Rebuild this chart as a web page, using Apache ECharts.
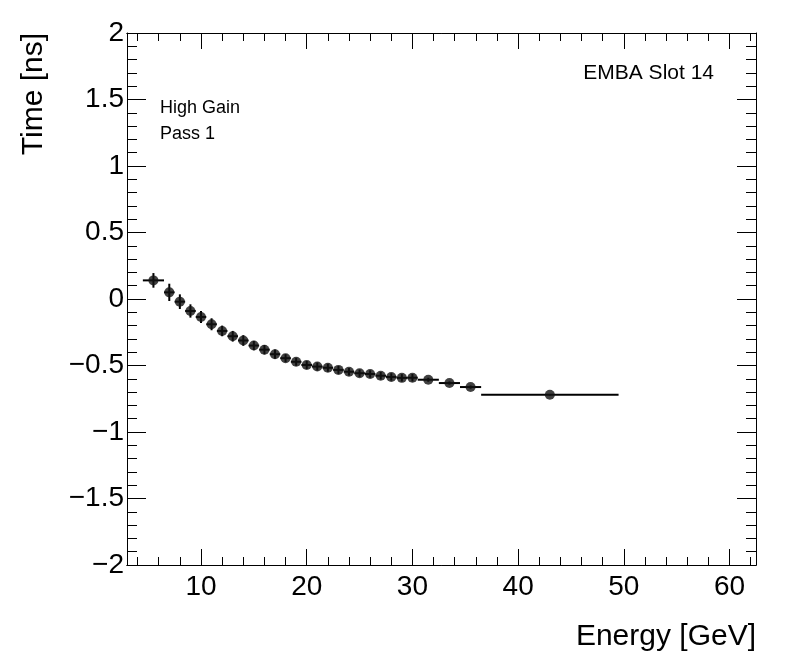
<!DOCTYPE html>
<html>
<head>
<meta charset="utf-8">
<script src="https://cdn.jsdelivr.net/npm/echarts@6/dist/echarts.min.js"></script>
<style>
  html, body { margin: 0; padding: 0; background: #fff; }
  #chart { width: 796px; height: 672px; }
</style>
</head>
<body>
<div id="chart"></div>
<script>
// bin centres and half widths in energy [GeV]
const energy = [5.5, 7, 8, 9, 10, 11, 12, 13, 14, 15, 16, 17, 18, 19, 20,
  21, 22, 23, 24, 25, 26, 27, 28, 29, 30, 31.5, 33.5, 35.5, 43];
const energyHalfWidth = [1, 0.5, 0.5, 0.5, 0.5, 0.5, 0.5, 0.5, 0.5, 0.5, 0.5, 0.5, 0.5, 0.5, 0.5,
  0.5, 0.5, 0.5, 0.5, 0.5, 0.5, 0.5, 0.5, 0.5, 0.5, 1, 1, 1, 6.5];
// mean time [ns] and its error
const time = [0.14, 0.05, -0.02, -0.09, -0.135, -0.19, -0.24, -0.28, -0.312, -0.35, -0.381, -0.415, -0.445, -0.472, -0.496,
  -0.508, -0.517, -0.533, -0.547, -0.558, -0.564, -0.577, -0.586, -0.593, -0.592, -0.607, -0.632, -0.662, -0.72];
const timeErr = [0.055, 0.065, 0.055, 0.05, 0.045, 0.045, 0.04, 0.04, 0.04, 0.035, 0.035, 0.035, 0.03, 0.03, 0.03,
  0.03, 0.03, 0.03, 0.028, 0.028, 0.028, 0.028, 0.028, 0.028, 0.028, 0.015, 0.012, 0.012, 0.005];

const xMajorTicks = [10, 20, 30, 40, 50, 60];
const xMinorTicks = [4, 6, 8, 12, 14, 16, 18, 22, 24, 26, 28, 32, 34, 36, 38, 42, 44, 46, 48, 52, 54, 56, 58, 62];

const FONT = '"Liberation Sans", Arial, Helvetica, sans-serif';
const fmtY = v => (v < 0 ? '\u2212' + String(-v) : String(v));

const chart = echarts.init(document.getElementById('chart'), null, { renderer: 'canvas' });

const xBase = (pos, ticks, len, labels) => ({
  type: 'value',
  position: pos,
  min: 3,
  max: 62.5,
  axisLine: { show: true, onZero: false, lineStyle: { color: '#000', width: 1 } },
  axisTick: { show: true, inside: true, length: len, customValues: ticks, lineStyle: { color: '#000', width: 1 } },
  axisLabel: labels
    ? { show: true, customValues: ticks, color: '#000', fontSize: 28, fontFamily: FONT, margin: 8 }
    : { show: false },
  splitLine: { show: false }
});

const yBase = (pos, labels) => ({
  type: 'value',
  position: pos,
  min: -2,
  max: 2,
  interval: 0.5,
  axisLine: { show: true, onZero: false, lineStyle: { color: '#000', width: 1 } },
  axisTick: { show: true, inside: true, length: 19, lineStyle: { color: '#000', width: 1 } },
  minorTick: { show: true, splitNumber: 5, length: 10, lineStyle: { color: '#000', width: 1 } },
  axisLabel: labels
    ? { show: true, color: '#000', fontSize: 28, fontFamily: FONT, margin: 3, formatter: fmtY }
    : { show: false },
  splitLine: { show: false },
  minorSplitLine: { show: false }
});

const points = energy.map((e, i) => [e, time[i], energyHalfWidth[i], timeErr[i]]);

chart.setOption({
  backgroundColor: '#fff',
  animation: false,
  grid: { left: 127, top: 33, width: 629, height: 532, outerBoundsMode: 'none' },
  xAxis: [
    xBase('bottom', xMajorTicks, 16, true),
    xBase('bottom', xMinorTicks, 8, false),
    xBase('top', xMajorTicks, 16, false),
    xBase('top', xMinorTicks, 8, false)
  ],
  yAxis: [
    yBase('left', true),
    yBase('right', false)
  ],
  series: [
    {
      type: 'custom',
      xAxisIndex: 0,
      yAxisIndex: 0,
      data: points,
      encode: { x: 0, y: 1 },
      renderItem: function (params, api) {
        const x = api.value(0), y = api.value(1), dx = api.value(2), dy = api.value(3);
        const l = api.coord([x - dx, y]);
        const r = api.coord([x + dx, y]);
        const b = api.coord([x, y - dy]);
        const t = api.coord([x, y + dy]);
        const st = { stroke: '#000', lineWidth: 2 };
        return {
          type: 'group',
          children: [
            { type: 'line', shape: { x1: l[0], y1: l[1], x2: r[0], y2: r[1] }, style: st },
            { type: 'line', shape: { x1: b[0], y1: b[1], x2: t[0], y2: t[1] }, style: st }
          ]
        };
      },
      z: 2
    },
    {
      type: 'scatter',
      xAxisIndex: 0,
      yAxisIndex: 0,
      data: points.map(p => [p[0], p[1]]),
      symbol: 'circle',
      symbolSize: 10,
      itemStyle: { color: '#111' },
      z: 3
    }
  ],
  graphic: [
    { type: 'text', x: 160, y: 108, style: { text: 'High Gain', fontSize: 18, fontFamily: FONT, fill: '#000', align: 'left', verticalAlign: 'middle' } },
    { type: 'text', x: 160, y: 134, style: { text: 'Pass 1', fontSize: 18, fontFamily: FONT, fill: '#000', align: 'left', verticalAlign: 'middle' } },
    { type: 'text', x: 714, y: 73, style: { text: 'EMBA Slot 14', fontSize: 21, fontFamily: FONT, fill: '#000', align: 'right', verticalAlign: 'middle' } },
    { type: 'text', x: 756, y: 637, style: { text: 'Energy [GeV]', fontSize: 30, fontFamily: FONT, fill: '#000', align: 'right', verticalAlign: 'middle' } },
    { type: 'text', x: 34, y: 33, rotation: Math.PI / 2, style: { text: 'Time [ns]', fontSize: 30, fontFamily: FONT, fill: '#000', align: 'right', verticalAlign: 'middle' } }
  ]
});
</script>
</body>
</html>
